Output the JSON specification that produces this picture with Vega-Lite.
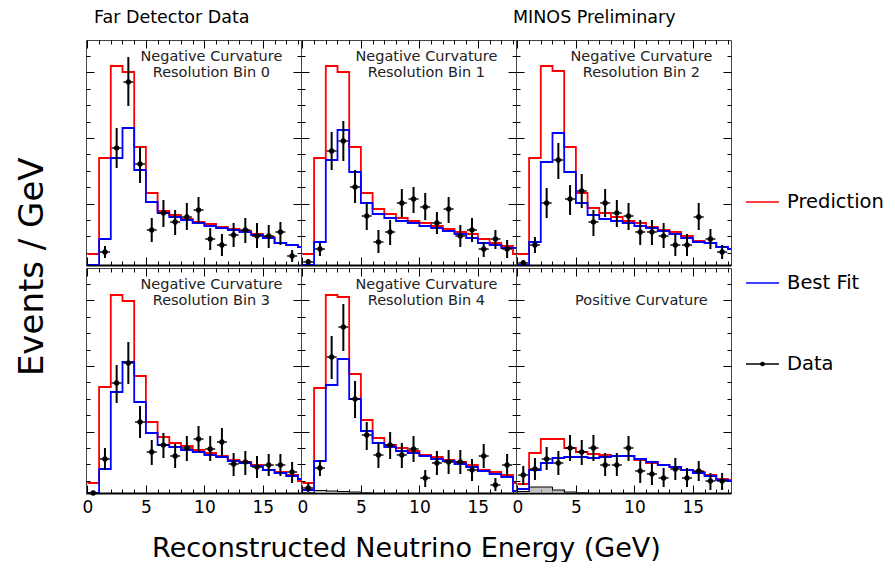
{
  "$schema": "https://vega.github.io/schema/vega-lite/v6.json",
  "background": "white",
  "padding": {"left": 16, "top": 8, "right": 0, "bottom": 0},
  "config": {
    "font": "DejaVu Sans",
    "view": {"stroke": "#444", "strokeWidth": 1},
    "title": {"fontWeight": "normal", "color": "black"},
    "concat": {"spacing": 0}
  },
  "datasets": {
    "hist": [
      {"p":0,"e":0,"pred":11,"fit":0},{"p":0,"e":1,"pred":107,"fit":26},{"p":0,"e":2,"pred":199,"fit":107},{"p":0,"e":3,"pred":193,"fit":137},{"p":0,"e":4,"pred":118,"fit":95},{"p":0,"e":5,"pred":72,"fit":63},{"p":0,"e":6,"pred":54,"fit":52},{"p":0,"e":7,"pred":50,"fit":48},{"p":0,"e":8,"pred":46,"fit":45},{"p":0,"e":9,"pred":43,"fit":42},{"p":0,"e":10,"pred":41,"fit":39},{"p":0,"e":11,"pred":38,"fit":37},{"p":0,"e":12,"pred":36,"fit":35},{"p":0,"e":13,"pred":34,"fit":33},{"p":0,"e":14,"pred":31,"fit":30},{"p":0,"e":15,"pred":28,"fit":27},{"p":0,"e":16,"pred":22,"fit":22},{"p":0,"e":17,"pred":20,"fit":20},{"p":0,"e":18,"pred":18,"fit":18},{"p":0,"e":19,"pred":18,"fit":18},
      {"p":1,"e":0,"pred":11,"fit":0},{"p":1,"e":1,"pred":107,"fit":23},{"p":1,"e":2,"pred":199,"fit":105},{"p":1,"e":3,"pred":193,"fit":135},{"p":1,"e":4,"pred":118,"fit":93},{"p":1,"e":5,"pred":72,"fit":62},{"p":1,"e":6,"pred":56,"fit":51},{"p":1,"e":7,"pred":51,"fit":47},{"p":1,"e":8,"pred":47,"fit":44},{"p":1,"e":9,"pred":44,"fit":42},{"p":1,"e":10,"pred":42,"fit":39},{"p":1,"e":11,"pred":39,"fit":37},{"p":1,"e":12,"pred":36,"fit":34},{"p":1,"e":13,"pred":33,"fit":31},{"p":1,"e":14,"pred":31,"fit":27},{"p":1,"e":15,"pred":26,"fit":22},{"p":1,"e":16,"pred":22,"fit":20},{"p":1,"e":17,"pred":19,"fit":17},{"p":1,"e":18,"pred":11,"fit":17},{"p":1,"e":19,"pred":11,"fit":17},
      {"p":2,"e":0,"pred":11,"fit":0},{"p":2,"e":1,"pred":107,"fit":23},{"p":2,"e":2,"pred":199,"fit":103},{"p":2,"e":3,"pred":194,"fit":132},{"p":2,"e":4,"pred":118,"fit":93},{"p":2,"e":5,"pred":72,"fit":62},{"p":2,"e":6,"pred":57,"fit":50},{"p":2,"e":7,"pred":52,"fit":46},{"p":2,"e":8,"pred":48,"fit":44},{"p":2,"e":9,"pred":44,"fit":42},{"p":2,"e":10,"pred":42,"fit":39},{"p":2,"e":11,"pred":38,"fit":37},{"p":2,"e":12,"pred":35,"fit":34},{"p":2,"e":13,"pred":33,"fit":31},{"p":2,"e":14,"pred":29,"fit":27},{"p":2,"e":15,"pred":24,"fit":23},{"p":2,"e":16,"pred":22,"fit":22},{"p":2,"e":17,"pred":18,"fit":18},{"p":2,"e":18,"pred":16,"fit":16},{"p":2,"e":19,"pred":16,"fit":16},
      {"p":3,"e":0,"pred":10,"fit":0},{"p":3,"e":1,"pred":106,"fit":24},{"p":3,"e":2,"pred":198,"fit":101},{"p":3,"e":3,"pred":192,"fit":131},{"p":3,"e":4,"pred":117,"fit":91},{"p":3,"e":5,"pred":71,"fit":60},{"p":3,"e":6,"pred":56,"fit":48},{"p":3,"e":7,"pred":50,"fit":46},{"p":3,"e":8,"pred":47,"fit":43},{"p":3,"e":9,"pred":43,"fit":41},{"p":3,"e":10,"pred":40,"fit":38},{"p":3,"e":11,"pred":37,"fit":36},{"p":3,"e":12,"pred":33,"fit":32},{"p":3,"e":13,"pred":31,"fit":30},{"p":3,"e":14,"pred":28,"fit":27},{"p":3,"e":15,"pred":23,"fit":23},{"p":3,"e":16,"pred":21,"fit":20},{"p":3,"e":17,"pred":18,"fit":17},{"p":3,"e":18,"pred":12,"fit":14},{"p":3,"e":19,"pred":12,"fit":14},
      {"p":4,"e":0,"pred":10,"fit":3},{"p":4,"e":1,"pred":105,"fit":32},{"p":4,"e":2,"pred":198,"fit":108},{"p":4,"e":3,"pred":196,"fit":134},{"p":4,"e":4,"pred":119,"fit":94},{"p":4,"e":5,"pred":73,"fit":62},{"p":4,"e":6,"pred":55,"fit":50},{"p":4,"e":7,"pred":48,"fit":46},{"p":4,"e":8,"pred":45,"fit":42},{"p":4,"e":9,"pred":42,"fit":40},{"p":4,"e":10,"pred":38,"fit":37},{"p":4,"e":11,"pred":36,"fit":34},{"p":4,"e":12,"pred":33,"fit":32},{"p":4,"e":13,"pred":31,"fit":29},{"p":4,"e":14,"pred":28,"fit":26},{"p":4,"e":15,"pred":23,"fit":22},{"p":4,"e":16,"pred":21,"fit":19},{"p":4,"e":17,"pred":18,"fit":16},{"p":4,"e":18,"pred":10,"fit":2},{"p":4,"e":19,"pred":10,"fit":2},
      {"p":5,"e":0,"pred":9,"fit":4},{"p":5,"e":1,"pred":40,"fit":23},{"p":5,"e":2,"pred":54,"fit":30},{"p":5,"e":3,"pred":54,"fit":35},{"p":5,"e":4,"pred":45,"fit":36},{"p":5,"e":5,"pred":41,"fit":36},{"p":5,"e":6,"pred":39,"fit":35},{"p":5,"e":7,"pred":38,"fit":36},{"p":5,"e":8,"pred":37,"fit":37},{"p":5,"e":9,"pred":37,"fit":37},{"p":5,"e":10,"pred":33,"fit":34},{"p":5,"e":11,"pred":30,"fit":31},{"p":5,"e":12,"pred":28,"fit":28},{"p":5,"e":13,"pred":26,"fit":26},{"p":5,"e":14,"pred":23,"fit":23},{"p":5,"e":15,"pred":21,"fit":20},{"p":5,"e":16,"pred":18,"fit":17},{"p":5,"e":17,"pred":14,"fit":13},{"p":5,"e":18,"pred":13,"fit":12},{"p":5,"e":19,"pred":13,"fit":12}
    ],
    "bkg": [
      {"p":4,"e":0,"v":0},{"p":4,"e":1,"v":2.5},{"p":4,"e":2,"v":2},{"p":4,"e":3,"v":1.5},{"p":4,"e":4,"v":1},{"p":4,"e":5,"v":0},{"p":4,"e":6,"v":0},
      {"p":5,"e":0,"v":1.5},{"p":5,"e":1,"v":6},{"p":5,"e":2,"v":6},{"p":5,"e":3,"v":3},{"p":5,"e":4,"v":1},{"p":5,"e":5,"v":0},{"p":5,"e":6,"v":0}
    ],
    "pts": [
      {"p":0,"c":1.5,"v":13,"lo":7,"hi":19},{"p":0,"c":2.5,"v":117,"lo":97,"hi":137},{"p":0,"c":3.5,"v":183,"lo":159,"hi":208},{"p":0,"c":4.5,"v":101,"lo":82,"hi":118},{"p":0,"c":5.5,"v":35,"lo":23,"hi":47},{"p":0,"c":6.5,"v":52,"lo":38,"hi":65},{"p":0,"c":7.5,"v":43,"lo":30,"hi":55},{"p":0,"c":8.5,"v":48,"lo":35,"hi":62},{"p":0,"c":9.5,"v":55,"lo":42,"hi":68},{"p":0,"c":10.5,"v":26,"lo":15,"hi":37},{"p":0,"c":11.5,"v":20,"lo":9,"hi":31},{"p":0,"c":12.5,"v":30,"lo":18,"hi":42},{"p":0,"c":13.5,"v":35,"lo":22,"hi":47},{"p":0,"c":14.5,"v":29,"lo":17,"hi":42},{"p":0,"c":15.5,"v":29,"lo":17,"hi":40},{"p":0,"c":16.5,"v":33,"lo":20,"hi":43},{"p":0,"c":17.5,"v":9,"lo":3,"hi":15},
      {"p":1,"c":0.5,"v":3,"lo":1,"hi":6},{"p":1,"c":1.5,"v":16,"lo":9,"hi":22},{"p":1,"c":2.5,"v":114,"lo":95,"hi":133},{"p":1,"c":3.5,"v":124,"lo":104,"hi":144},{"p":1,"c":4.5,"v":78,"lo":62,"hi":95},{"p":1,"c":5.5,"v":49,"lo":35,"hi":62},{"p":1,"c":6.5,"v":23,"lo":12,"hi":35},{"p":1,"c":7.5,"v":33,"lo":20,"hi":45},{"p":1,"c":8.5,"v":62,"lo":48,"hi":76},{"p":1,"c":9.5,"v":66,"lo":52,"hi":78},{"p":1,"c":10.5,"v":58,"lo":45,"hi":72},{"p":1,"c":11.5,"v":42,"lo":31,"hi":53},{"p":1,"c":12.5,"v":56,"lo":42,"hi":68},{"p":1,"c":13.5,"v":29,"lo":18,"hi":40},{"p":1,"c":14.5,"v":35,"lo":23,"hi":47},{"p":1,"c":15.5,"v":16,"lo":8,"hi":23},{"p":1,"c":16.5,"v":26,"lo":16,"hi":35},{"p":1,"c":17.5,"v":16,"lo":7,"hi":25},
      {"p":2,"c":0.5,"v":2,"lo":0,"hi":5},{"p":2,"c":1.5,"v":20,"lo":12,"hi":28},{"p":2,"c":2.5,"v":62,"lo":47,"hi":77},{"p":2,"c":3.5,"v":105,"lo":86,"hi":122},{"p":2,"c":4.5,"v":66,"lo":50,"hi":80},{"p":2,"c":5.5,"v":74,"lo":57,"hi":91},{"p":2,"c":6.5,"v":43,"lo":29,"hi":55},{"p":2,"c":7.5,"v":62,"lo":48,"hi":76},{"p":2,"c":8.5,"v":52,"lo":38,"hi":65},{"p":2,"c":9.5,"v":49,"lo":35,"hi":62},{"p":2,"c":10.5,"v":33,"lo":20,"hi":45},{"p":2,"c":11.5,"v":33,"lo":20,"hi":45},{"p":2,"c":12.5,"v":29,"lo":17,"hi":42},{"p":2,"c":13.5,"v":20,"lo":9,"hi":31},{"p":2,"c":14.5,"v":20,"lo":9,"hi":31},{"p":2,"c":15.5,"v":48,"lo":35,"hi":62},{"p":2,"c":16.5,"v":26,"lo":16,"hi":36},{"p":2,"c":17.5,"v":13,"lo":6,"hi":20},
      {"p":3,"c":0.5,"v":0,"lo":0,"hi":0},{"p":3,"c":1.5,"v":34,"lo":23,"hi":45},{"p":3,"c":2.5,"v":110,"lo":90,"hi":128},{"p":3,"c":3.5,"v":130,"lo":109,"hi":151},{"p":3,"c":4.5,"v":71,"lo":55,"hi":87},{"p":3,"c":5.5,"v":41,"lo":28,"hi":53},{"p":3,"c":6.5,"v":48,"lo":35,"hi":60},{"p":3,"c":7.5,"v":37,"lo":25,"hi":49},{"p":3,"c":8.5,"v":45,"lo":32,"hi":57},{"p":3,"c":9.5,"v":54,"lo":41,"hi":67},{"p":3,"c":10.5,"v":44,"lo":32,"hi":57},{"p":3,"c":11.5,"v":51,"lo":37,"hi":65},{"p":3,"c":12.5,"v":29,"lo":17,"hi":40},{"p":3,"c":13.5,"v":31,"lo":18,"hi":42},{"p":3,"c":14.5,"v":26,"lo":15,"hi":37},{"p":3,"c":15.5,"v":28,"lo":17,"hi":39},{"p":3,"c":16.5,"v":28,"lo":17,"hi":39},{"p":3,"c":17.5,"v":21,"lo":10,"hi":31},
      {"p":4,"c":0.5,"v":5,"lo":1,"hi":10},{"p":4,"c":1.5,"v":25,"lo":17,"hi":33},{"p":4,"c":2.5,"v":136,"lo":114,"hi":157},{"p":4,"c":3.5,"v":166,"lo":142,"hi":189},{"p":4,"c":4.5,"v":94,"lo":75,"hi":112},{"p":4,"c":5.5,"v":58,"lo":43,"hi":71},{"p":4,"c":6.5,"v":38,"lo":25,"hi":50},{"p":4,"c":7.5,"v":48,"lo":34,"hi":61},{"p":4,"c":8.5,"v":38,"lo":25,"hi":50},{"p":4,"c":9.5,"v":44,"lo":31,"hi":57},{"p":4,"c":10.5,"v":15,"lo":6,"hi":23},{"p":4,"c":11.5,"v":30,"lo":18,"hi":42},{"p":4,"c":12.5,"v":31,"lo":19,"hi":43},{"p":4,"c":13.5,"v":31,"lo":19,"hi":43},{"p":4,"c":14.5,"v":23,"lo":12,"hi":34},{"p":4,"c":15.5,"v":37,"lo":25,"hi":49},{"p":4,"c":16.5,"v":8,"lo":2,"hi":15},{"p":4,"c":17.5,"v":28,"lo":17,"hi":39},
      {"p":5,"c":0.5,"v":18,"lo":8,"hi":27},{"p":5,"c":1.5,"v":24,"lo":13,"hi":35},{"p":5,"c":2.5,"v":34,"lo":23,"hi":46},{"p":5,"c":3.5,"v":30,"lo":18,"hi":42},{"p":5,"c":4.5,"v":45,"lo":32,"hi":58},{"p":5,"c":5.5,"v":41,"lo":28,"hi":53},{"p":5,"c":6.5,"v":45,"lo":32,"hi":58},{"p":5,"c":7.5,"v":28,"lo":17,"hi":40},{"p":5,"c":8.5,"v":28,"lo":17,"hi":40},{"p":5,"c":9.5,"v":45,"lo":32,"hi":57},{"p":5,"c":10.5,"v":22,"lo":10,"hi":33},{"p":5,"c":11.5,"v":19,"lo":8,"hi":30},{"p":5,"c":12.5,"v":15,"lo":6,"hi":25},{"p":5,"c":13.5,"v":24,"lo":13,"hi":35},{"p":5,"c":14.5,"v":15,"lo":6,"hi":25},{"p":5,"c":15.5,"v":22,"lo":12,"hi":32},{"p":5,"c":16.5,"v":12,"lo":3,"hi":20},{"p":5,"c":17.5,"v":12,"lo":3,"hi":20}
    ],
    "labels": [
      {"p":0,"l1":"Negative Curvature","l2":"Resolution Bin 0"},
      {"p":1,"l1":"Negative Curvature","l2":"Resolution Bin 1"},
      {"p":2,"l1":"Negative Curvature","l2":"Resolution Bin 2"},
      {"p":3,"l1":"Negative Curvature","l2":"Resolution Bin 3"},
      {"p":4,"l1":"Negative Curvature","l2":"Resolution Bin 4"},
      {"p":5,"l1":"","l2":"Positive Curvature"}
    ]
  },
  "hconcat": [
    {
      "title": {"text": "Events / GeV", "orient": "left", "anchor": "middle", "fontSize": 34, "offset": 31, "dx": 18},
      "vconcat": [
        {
          "bounds": "flush",
          "hconcat": [
            {
              "width": 215, "height": 225,
              "title": {"text": "Far Detector Data", "anchor": "start", "dx": 8, "fontSize": 17.5, "offset": 14},
              "layer": [
                {"data": {"name": "hist"}, "transform": [{"filter": "datum.p == 0"}],
                 "mark": {"type": "line", "interpolate": "step-after", "color": "#ff0000", "strokeWidth": 1.8, "clip": true},
                 "encoding": {
                   "x": {"field": "e", "type": "quantitative", "scale": {"domain": [-0.12, 18.26], "nice": false, "zero": false},
                         "axis": {"values": [0, 5, 10, 15], "grid": true, "gridDash": [8, 209], "gridColor": "black", "ticks": false, "labels": false, "domain": true, "domainColor": "black", "domainWidth": 2, "title": null}},
                   "y": {"field": "pred", "type": "quantitative", "scale": {"domain": [0, 225], "nice": false},
                         "axis": {"values": [61.5, 127.1, 192.7], "grid": true, "gridDash": [8, 199], "gridColor": "black", "ticks": false, "labels": false, "domain": false, "title": null}}}},
                {"data": {"name": "hist"}, "transform": [{"filter": "datum.p == 0"}],
                 "mark": {"type": "line", "interpolate": "step-after", "color": "#0000ff", "strokeWidth": 1.8, "clip": true},
                 "encoding": {
                   "x": {"field": "e", "type": "quantitative", "axis": {"values": [1, 2, 3, 4, 6, 7, 8, 9, 11, 12, 13, 14, 16, 17, 18], "grid": true, "gridDash": [4, 217], "gridColor": "black", "ticks": false, "labels": false, "domain": false, "title": null}},
                   "y": {"field": "fit", "type": "quantitative", "axis": {"values": [12.3, 28.7, 45.1, 77.9, 94.3, 110.7, 143.5, 159.9, 176.3, 209.1], "grid": true, "gridDash": [4, 207], "gridColor": "black", "ticks": false, "labels": false, "domain": false, "title": null}}}},
                {"data": {"name": "pts"}, "transform": [{"filter": "datum.p == 0"}],
                 "mark": {"type": "rule", "color": "black", "strokeWidth": 2, "clip": true},
                 "encoding": {"x": {"field": "c", "type": "quantitative", "axis": null}, "y": {"field": "lo", "type": "quantitative", "axis": null}, "y2": {"field": "hi"}}},
                {"data": {"name": "pts"}, "transform": [{"filter": "datum.p == 0"}],
                 "mark": {"type": "tick", "orient": "horizontal", "color": "black", "size": 10, "thickness": 2},
                 "encoding": {"x": {"field": "c", "type": "quantitative", "axis": null}, "y": {"field": "v", "type": "quantitative", "axis": null}}},
                {"data": {"name": "pts"}, "transform": [{"filter": "datum.p == 0"}],
                 "mark": {"type": "circle", "color": "black", "size": 28, "opacity": 1},
                 "encoding": {"x": {"field": "c", "type": "quantitative", "axis": null}, "y": {"field": "v", "type": "quantitative", "axis": null}}},
                {"data": {"name": "labels"}, "transform": [{"filter": "datum.p == 0"}],
                 "mark": {"type": "text", "fontSize": 14.5, "align": "center", "baseline": "middle", "color": "#222"},
                 "encoding": {"x": {"datum": 10.6, "type": "quantitative", "axis": null}, "y": {"datum": 208, "type": "quantitative", "axis": null}, "text": {"field": "l1"}}},
                {"data": {"name": "labels"}, "transform": [{"filter": "datum.p == 0"}],
                 "mark": {"type": "text", "fontSize": 14.5, "align": "center", "baseline": "middle", "color": "#222"},
                 "encoding": {"x": {"datum": 10.6, "type": "quantitative", "axis": null}, "y": {"datum": 192, "type": "quantitative", "axis": null}, "text": {"field": "l2"}}}
              ],
              "resolve": {"axis": {"x": "independent", "y": "independent"}}
            },
            {
              "width": 215, "height": 225,
              "layer": [
                {"data": {"name": "hist"}, "transform": [{"filter": "datum.p == 1"}],
                 "mark": {"type": "line", "interpolate": "step-after", "color": "#ff0000", "strokeWidth": 1.8, "clip": true},
                 "encoding": {
                   "x": {"field": "e", "type": "quantitative", "scale": {"domain": [-0.12, 18.26], "nice": false, "zero": false},
                         "axis": {"values": [0, 5, 10, 15], "grid": true, "gridDash": [8, 209], "gridColor": "black", "ticks": false, "labels": false, "domain": true, "domainColor": "black", "domainWidth": 2, "title": null}},
                   "y": {"field": "pred", "type": "quantitative", "scale": {"domain": [0, 225], "nice": false},
                         "axis": {"values": [61.5, 127.1, 192.7], "grid": true, "gridDash": [8, 199], "gridColor": "black", "ticks": false, "labels": false, "domain": false, "title": null}}}},
                {"data": {"name": "hist"}, "transform": [{"filter": "datum.p == 1"}],
                 "mark": {"type": "line", "interpolate": "step-after", "color": "#0000ff", "strokeWidth": 1.8, "clip": true},
                 "encoding": {
                   "x": {"field": "e", "type": "quantitative", "axis": {"values": [1, 2, 3, 4, 6, 7, 8, 9, 11, 12, 13, 14, 16, 17, 18], "grid": true, "gridDash": [4, 217], "gridColor": "black", "ticks": false, "labels": false, "domain": false, "title": null}},
                   "y": {"field": "fit", "type": "quantitative", "axis": {"values": [12.3, 28.7, 45.1, 77.9, 94.3, 110.7, 143.5, 159.9, 176.3, 209.1], "grid": true, "gridDash": [4, 207], "gridColor": "black", "ticks": false, "labels": false, "domain": false, "title": null}}}},
                {"data": {"name": "pts"}, "transform": [{"filter": "datum.p == 1"}],
                 "mark": {"type": "rule", "color": "black", "strokeWidth": 2, "clip": true},
                 "encoding": {"x": {"field": "c", "type": "quantitative", "axis": null}, "y": {"field": "lo", "type": "quantitative", "axis": null}, "y2": {"field": "hi"}}},
                {"data": {"name": "pts"}, "transform": [{"filter": "datum.p == 1"}],
                 "mark": {"type": "tick", "orient": "horizontal", "color": "black", "size": 10, "thickness": 2},
                 "encoding": {"x": {"field": "c", "type": "quantitative", "axis": null}, "y": {"field": "v", "type": "quantitative", "axis": null}}},
                {"data": {"name": "pts"}, "transform": [{"filter": "datum.p == 1"}],
                 "mark": {"type": "circle", "color": "black", "size": 28, "opacity": 1},
                 "encoding": {"x": {"field": "c", "type": "quantitative", "axis": null}, "y": {"field": "v", "type": "quantitative", "axis": null}}},
                {"data": {"name": "labels"}, "transform": [{"filter": "datum.p == 1"}],
                 "mark": {"type": "text", "fontSize": 14.5, "align": "center", "baseline": "middle", "color": "#222"},
                 "encoding": {"x": {"datum": 10.6, "type": "quantitative", "axis": null}, "y": {"datum": 208, "type": "quantitative", "axis": null}, "text": {"field": "l1"}}},
                {"data": {"name": "labels"}, "transform": [{"filter": "datum.p == 1"}],
                 "mark": {"type": "text", "fontSize": 14.5, "align": "center", "baseline": "middle", "color": "#222"},
                 "encoding": {"x": {"datum": 10.6, "type": "quantitative", "axis": null}, "y": {"datum": 192, "type": "quantitative", "axis": null}, "text": {"field": "l2"}}}
              ],
              "resolve": {"axis": {"x": "independent", "y": "independent"}}
            },
            {
              "width": 215, "height": 225,
              "title": {"text": "MINOS Preliminary", "anchor": "start", "dx": -3, "fontSize": 17.5, "offset": 14},
              "layer": [
                {"data": {"name": "hist"}, "transform": [{"filter": "datum.p == 2"}],
                 "mark": {"type": "line", "interpolate": "step-after", "color": "#ff0000", "strokeWidth": 1.8, "clip": true},
                 "encoding": {
                   "x": {"field": "e", "type": "quantitative", "scale": {"domain": [-0.12, 18.26], "nice": false, "zero": false},
                         "axis": {"values": [0, 5, 10, 15], "grid": true, "gridDash": [8, 209], "gridColor": "black", "ticks": false, "labels": false, "domain": true, "domainColor": "black", "domainWidth": 2, "title": null}},
                   "y": {"field": "pred", "type": "quantitative", "scale": {"domain": [0, 225], "nice": false},
                         "axis": {"values": [61.5, 127.1, 192.7], "grid": true, "gridDash": [8, 199], "gridColor": "black", "ticks": false, "labels": false, "domain": false, "title": null}}}},
                {"data": {"name": "hist"}, "transform": [{"filter": "datum.p == 2"}],
                 "mark": {"type": "line", "interpolate": "step-after", "color": "#0000ff", "strokeWidth": 1.8, "clip": true},
                 "encoding": {
                   "x": {"field": "e", "type": "quantitative", "axis": {"values": [1, 2, 3, 4, 6, 7, 8, 9, 11, 12, 13, 14, 16, 17, 18], "grid": true, "gridDash": [4, 217], "gridColor": "black", "ticks": false, "labels": false, "domain": false, "title": null}},
                   "y": {"field": "fit", "type": "quantitative", "axis": {"values": [12.3, 28.7, 45.1, 77.9, 94.3, 110.7, 143.5, 159.9, 176.3, 209.1], "grid": true, "gridDash": [4, 207], "gridColor": "black", "ticks": false, "labels": false, "domain": false, "title": null}}}},
                {"data": {"name": "pts"}, "transform": [{"filter": "datum.p == 2"}],
                 "mark": {"type": "rule", "color": "black", "strokeWidth": 2, "clip": true},
                 "encoding": {"x": {"field": "c", "type": "quantitative", "axis": null}, "y": {"field": "lo", "type": "quantitative", "axis": null}, "y2": {"field": "hi"}}},
                {"data": {"name": "pts"}, "transform": [{"filter": "datum.p == 2"}],
                 "mark": {"type": "tick", "orient": "horizontal", "color": "black", "size": 10, "thickness": 2},
                 "encoding": {"x": {"field": "c", "type": "quantitative", "axis": null}, "y": {"field": "v", "type": "quantitative", "axis": null}}},
                {"data": {"name": "pts"}, "transform": [{"filter": "datum.p == 2"}],
                 "mark": {"type": "circle", "color": "black", "size": 28, "opacity": 1},
                 "encoding": {"x": {"field": "c", "type": "quantitative", "axis": null}, "y": {"field": "v", "type": "quantitative", "axis": null}}},
                {"data": {"name": "labels"}, "transform": [{"filter": "datum.p == 2"}],
                 "mark": {"type": "text", "fontSize": 14.5, "align": "center", "baseline": "middle", "color": "#222"},
                 "encoding": {"x": {"datum": 10.6, "type": "quantitative", "axis": null}, "y": {"datum": 208, "type": "quantitative", "axis": null}, "text": {"field": "l1"}}},
                {"data": {"name": "labels"}, "transform": [{"filter": "datum.p == 2"}],
                 "mark": {"type": "text", "fontSize": 14.5, "align": "center", "baseline": "middle", "color": "#222"},
                 "encoding": {"x": {"datum": 10.6, "type": "quantitative", "axis": null}, "y": {"datum": 192, "type": "quantitative", "axis": null}, "text": {"field": "l2"}}}
              ],
              "resolve": {"axis": {"x": "independent", "y": "independent"}}
            }
          ]
        },
        {
          "bounds": "flush",
          "title": {"text": "Reconstructed Neutrino Energy (GeV)", "orient": "bottom", "anchor": "middle", "fontSize": 27, "offset": 20},
          "hconcat": [
            {
              "width": 215, "height": 225,
              "layer": [
                {"data": {"name": "hist"}, "transform": [{"filter": "datum.p == 3"}],
                 "mark": {"type": "line", "interpolate": "step-after", "color": "#ff0000", "strokeWidth": 1.8, "clip": true},
                 "encoding": {
                   "x": {"field": "e", "type": "quantitative", "scale": {"domain": [-0.12, 18.26], "nice": false, "zero": false},
                         "axis": {"values": [0, 5, 10, 15], "grid": true, "gridDash": [8, 209], "gridColor": "black", "ticks": false, "labels": true, "labelFontSize": 17, "labelColor": "black", "labelPadding": 6, "domain": true, "domainColor": "black", "domainWidth": 2, "title": null}},
                   "y": {"field": "pred", "type": "quantitative", "scale": {"domain": [0, 225], "nice": false},
                         "axis": {"values": [61.5, 127.1, 192.7], "grid": true, "gridDash": [8, 199], "gridColor": "black", "ticks": false, "labels": false, "domain": false, "title": null}}}},
                {"data": {"name": "hist"}, "transform": [{"filter": "datum.p == 3"}],
                 "mark": {"type": "line", "interpolate": "step-after", "color": "#0000ff", "strokeWidth": 1.8, "clip": true},
                 "encoding": {
                   "x": {"field": "e", "type": "quantitative", "axis": {"values": [1, 2, 3, 4, 6, 7, 8, 9, 11, 12, 13, 14, 16, 17, 18], "grid": true, "gridDash": [4, 217], "gridColor": "black", "ticks": false, "labels": false, "domain": false, "title": null}},
                   "y": {"field": "fit", "type": "quantitative", "axis": {"values": [12.3, 28.7, 45.1, 77.9, 94.3, 110.7, 143.5, 159.9, 176.3, 209.1], "grid": true, "gridDash": [4, 207], "gridColor": "black", "ticks": false, "labels": false, "domain": false, "title": null}}}},
                {"data": {"name": "pts"}, "transform": [{"filter": "datum.p == 3"}],
                 "mark": {"type": "rule", "color": "black", "strokeWidth": 2, "clip": true},
                 "encoding": {"x": {"field": "c", "type": "quantitative", "axis": null}, "y": {"field": "lo", "type": "quantitative", "axis": null}, "y2": {"field": "hi"}}},
                {"data": {"name": "pts"}, "transform": [{"filter": "datum.p == 3"}],
                 "mark": {"type": "tick", "orient": "horizontal", "color": "black", "size": 10, "thickness": 2},
                 "encoding": {"x": {"field": "c", "type": "quantitative", "axis": null}, "y": {"field": "v", "type": "quantitative", "axis": null}}},
                {"data": {"name": "pts"}, "transform": [{"filter": "datum.p == 3"}],
                 "mark": {"type": "circle", "color": "black", "size": 28, "opacity": 1},
                 "encoding": {"x": {"field": "c", "type": "quantitative", "axis": null}, "y": {"field": "v", "type": "quantitative", "axis": null}}},
                {"data": {"name": "labels"}, "transform": [{"filter": "datum.p == 3"}],
                 "mark": {"type": "text", "fontSize": 14.5, "align": "center", "baseline": "middle", "color": "#222"},
                 "encoding": {"x": {"datum": 10.6, "type": "quantitative", "axis": null}, "y": {"datum": 208, "type": "quantitative", "axis": null}, "text": {"field": "l1"}}},
                {"data": {"name": "labels"}, "transform": [{"filter": "datum.p == 3"}],
                 "mark": {"type": "text", "fontSize": 14.5, "align": "center", "baseline": "middle", "color": "#222"},
                 "encoding": {"x": {"datum": 10.6, "type": "quantitative", "axis": null}, "y": {"datum": 192, "type": "quantitative", "axis": null}, "text": {"field": "l2"}}}
              ],
              "resolve": {"axis": {"x": "independent", "y": "independent"}}
            },
            {
              "width": 215, "height": 225,
              "layer": [
                {"data": {"name": "bkg"}, "transform": [{"filter": "datum.p == 4"}],
                 "mark": {"type": "area", "interpolate": "step-after", "color": "#aaaaaa", "opacity": 0.7, "line": {"color": "black", "strokeWidth": 1}, "clip": true},
                 "encoding": {"x": {"field": "e", "type": "quantitative", "axis": null}, "y": {"field": "v", "type": "quantitative", "axis": null}}},
                {"data": {"name": "hist"}, "transform": [{"filter": "datum.p == 4"}],
                 "mark": {"type": "line", "interpolate": "step-after", "color": "#ff0000", "strokeWidth": 1.8, "clip": true},
                 "encoding": {
                   "x": {"field": "e", "type": "quantitative", "scale": {"domain": [-0.12, 18.26], "nice": false, "zero": false},
                         "axis": {"values": [0, 5, 10, 15], "grid": true, "gridDash": [8, 209], "gridColor": "black", "ticks": false, "labels": true, "labelFontSize": 17, "labelColor": "black", "labelPadding": 6, "domain": true, "domainColor": "black", "domainWidth": 2, "title": null}},
                   "y": {"field": "pred", "type": "quantitative", "scale": {"domain": [0, 225], "nice": false},
                         "axis": {"values": [61.5, 127.1, 192.7], "grid": true, "gridDash": [8, 199], "gridColor": "black", "ticks": false, "labels": false, "domain": false, "title": null}}}},
                {"data": {"name": "hist"}, "transform": [{"filter": "datum.p == 4"}],
                 "mark": {"type": "line", "interpolate": "step-after", "color": "#0000ff", "strokeWidth": 1.8, "clip": true},
                 "encoding": {
                   "x": {"field": "e", "type": "quantitative", "axis": {"values": [1, 2, 3, 4, 6, 7, 8, 9, 11, 12, 13, 14, 16, 17, 18], "grid": true, "gridDash": [4, 217], "gridColor": "black", "ticks": false, "labels": false, "domain": false, "title": null}},
                   "y": {"field": "fit", "type": "quantitative", "axis": {"values": [12.3, 28.7, 45.1, 77.9, 94.3, 110.7, 143.5, 159.9, 176.3, 209.1], "grid": true, "gridDash": [4, 207], "gridColor": "black", "ticks": false, "labels": false, "domain": false, "title": null}}}},
                {"data": {"name": "pts"}, "transform": [{"filter": "datum.p == 4"}],
                 "mark": {"type": "rule", "color": "black", "strokeWidth": 2, "clip": true},
                 "encoding": {"x": {"field": "c", "type": "quantitative", "axis": null}, "y": {"field": "lo", "type": "quantitative", "axis": null}, "y2": {"field": "hi"}}},
                {"data": {"name": "pts"}, "transform": [{"filter": "datum.p == 4"}],
                 "mark": {"type": "tick", "orient": "horizontal", "color": "black", "size": 10, "thickness": 2},
                 "encoding": {"x": {"field": "c", "type": "quantitative", "axis": null}, "y": {"field": "v", "type": "quantitative", "axis": null}}},
                {"data": {"name": "pts"}, "transform": [{"filter": "datum.p == 4"}],
                 "mark": {"type": "circle", "color": "black", "size": 28, "opacity": 1},
                 "encoding": {"x": {"field": "c", "type": "quantitative", "axis": null}, "y": {"field": "v", "type": "quantitative", "axis": null}}},
                {"data": {"name": "labels"}, "transform": [{"filter": "datum.p == 4"}],
                 "mark": {"type": "text", "fontSize": 14.5, "align": "center", "baseline": "middle", "color": "#222"},
                 "encoding": {"x": {"datum": 10.6, "type": "quantitative", "axis": null}, "y": {"datum": 208, "type": "quantitative", "axis": null}, "text": {"field": "l1"}}},
                {"data": {"name": "labels"}, "transform": [{"filter": "datum.p == 4"}],
                 "mark": {"type": "text", "fontSize": 14.5, "align": "center", "baseline": "middle", "color": "#222"},
                 "encoding": {"x": {"datum": 10.6, "type": "quantitative", "axis": null}, "y": {"datum": 192, "type": "quantitative", "axis": null}, "text": {"field": "l2"}}}
              ],
              "resolve": {"axis": {"x": "independent", "y": "independent"}}
            },
            {
              "width": 215, "height": 225,
              "layer": [
                {"data": {"name": "bkg"}, "transform": [{"filter": "datum.p == 5"}],
                 "mark": {"type": "area", "interpolate": "step-after", "color": "#aaaaaa", "opacity": 0.7, "line": {"color": "black", "strokeWidth": 1}, "clip": true},
                 "encoding": {"x": {"field": "e", "type": "quantitative", "axis": null}, "y": {"field": "v", "type": "quantitative", "axis": null}}},
                {"data": {"name": "hist"}, "transform": [{"filter": "datum.p == 5"}],
                 "mark": {"type": "line", "interpolate": "step-after", "color": "#ff0000", "strokeWidth": 1.8, "clip": true},
                 "encoding": {
                   "x": {"field": "e", "type": "quantitative", "scale": {"domain": [-0.12, 18.26], "nice": false, "zero": false},
                         "axis": {"values": [0, 5, 10, 15], "grid": true, "gridDash": [8, 209], "gridColor": "black", "ticks": false, "labels": true, "labelFontSize": 17, "labelColor": "black", "labelPadding": 6, "domain": true, "domainColor": "black", "domainWidth": 2, "title": null}},
                   "y": {"field": "pred", "type": "quantitative", "scale": {"domain": [0, 225], "nice": false},
                         "axis": {"values": [61.5, 127.1, 192.7], "grid": true, "gridDash": [8, 199], "gridColor": "black", "ticks": false, "labels": false, "domain": false, "title": null}}}},
                {"data": {"name": "hist"}, "transform": [{"filter": "datum.p == 5"}],
                 "mark": {"type": "line", "interpolate": "step-after", "color": "#0000ff", "strokeWidth": 1.8, "clip": true},
                 "encoding": {
                   "x": {"field": "e", "type": "quantitative", "axis": {"values": [1, 2, 3, 4, 6, 7, 8, 9, 11, 12, 13, 14, 16, 17, 18], "grid": true, "gridDash": [4, 217], "gridColor": "black", "ticks": false, "labels": false, "domain": false, "title": null}},
                   "y": {"field": "fit", "type": "quantitative", "axis": {"values": [12.3, 28.7, 45.1, 77.9, 94.3, 110.7, 143.5, 159.9, 176.3, 209.1], "grid": true, "gridDash": [4, 207], "gridColor": "black", "ticks": false, "labels": false, "domain": false, "title": null}}}},
                {"data": {"name": "pts"}, "transform": [{"filter": "datum.p == 5"}],
                 "mark": {"type": "rule", "color": "black", "strokeWidth": 2, "clip": true},
                 "encoding": {"x": {"field": "c", "type": "quantitative", "axis": null}, "y": {"field": "lo", "type": "quantitative", "axis": null}, "y2": {"field": "hi"}}},
                {"data": {"name": "pts"}, "transform": [{"filter": "datum.p == 5"}],
                 "mark": {"type": "tick", "orient": "horizontal", "color": "black", "size": 10, "thickness": 2},
                 "encoding": {"x": {"field": "c", "type": "quantitative", "axis": null}, "y": {"field": "v", "type": "quantitative", "axis": null}}},
                {"data": {"name": "pts"}, "transform": [{"filter": "datum.p == 5"}],
                 "mark": {"type": "circle", "color": "black", "size": 28, "opacity": 1},
                 "encoding": {"x": {"field": "c", "type": "quantitative", "axis": null}, "y": {"field": "v", "type": "quantitative", "axis": null}}},
                {"data": {"name": "labels"}, "transform": [{"filter": "datum.p == 5"}],
                 "mark": {"type": "text", "fontSize": 14.5, "align": "center", "baseline": "middle", "color": "#222"},
                 "encoding": {"x": {"datum": 10.6, "type": "quantitative", "axis": null}, "y": {"datum": 208, "type": "quantitative", "axis": null}, "text": {"field": "l1"}}},
                {"data": {"name": "labels"}, "transform": [{"filter": "datum.p == 5"}],
                 "mark": {"type": "text", "fontSize": 14.5, "align": "center", "baseline": "middle", "color": "#222"},
                 "encoding": {"x": {"datum": 10.6, "type": "quantitative", "axis": null}, "y": {"datum": 192, "type": "quantitative", "axis": null}, "text": {"field": "l2"}}}
              ],
              "resolve": {"axis": {"x": "independent", "y": "independent"}}
            }
          ]
        }
      ]
    },
    {
      "width": 140, "height": 324,
      "view": {"stroke": null},
      "data": {"values": [{"name": "Prediction"}, {"name": "Best Fit"}, {"name": "Data"}]},
      "encoding": {
        "y": {"field": "name", "type": "nominal", "axis": null,
              "scale": {"type": "point", "domain": ["Prediction", "Best Fit", "Data"], "padding": 1, "align": 1}}
      },
      "layer": [
        {"mark": {"type": "rule", "strokeWidth": 1.5},
         "encoding": {
           "x": {"datum": 0, "type": "quantitative", "scale": {"domain": [0, 140], "nice": false}, "axis": null},
           "x2": {"datum": 33},
           "color": {"field": "name", "type": "nominal", "legend": null,
                     "scale": {"domain": ["Prediction", "Best Fit", "Data"], "range": ["#ff0000", "#0000ff", "#000000"]}}}},
        {"transform": [{"filter": "datum.name == 'Data'"}],
         "mark": {"type": "circle", "color": "black", "size": 22, "opacity": 1},
         "encoding": {"x": {"datum": 16.5, "type": "quantitative"}}},
        {"mark": {"type": "text", "align": "left", "baseline": "middle", "fontSize": 19.5, "color": "black"},
         "encoding": {"x": {"datum": 41, "type": "quantitative"}, "text": {"field": "name"}}}
      ]
    }
  ],
  "spacing": 13
}
